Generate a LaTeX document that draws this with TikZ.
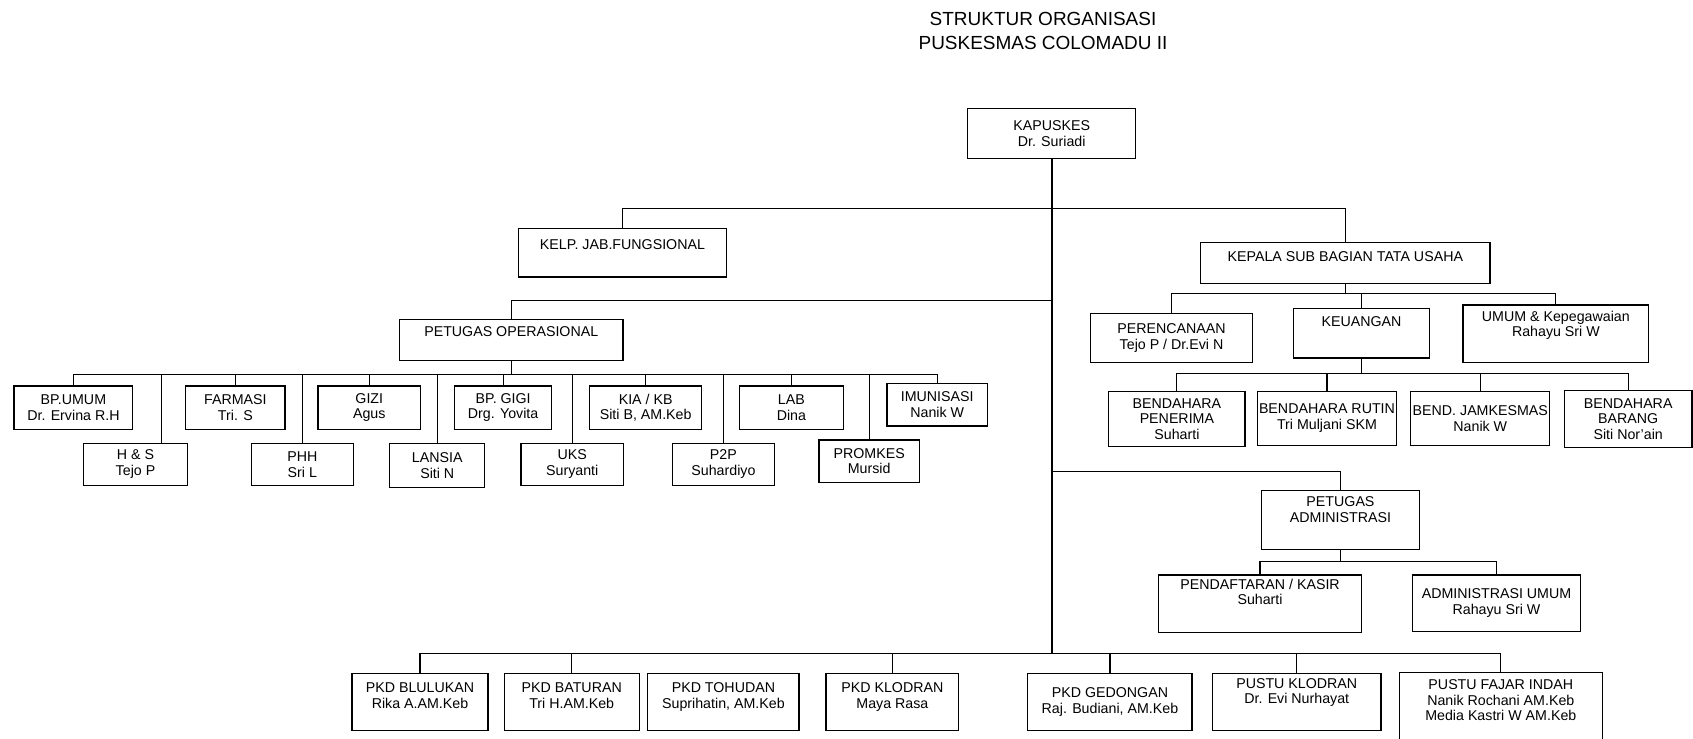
\documentclass[tikz,border=0pt]{standalone}
\usepackage{fontspec}
\setmainfont{Liberation Sans}
\usetikzlibrary{positioning, calc}
\tikzset{
  orgbox/.style={draw, line width=0.6pt, align=center, inner sep=1pt, font=\fontsize{7.5}{8.3}\selectfont},
  boxsize/.style 2 args={minimum width=#1*0.02cm, minimum height=#2*0.02cm},
  link/.style={line width=0.6pt},
  trunk/.style={line width=0.9pt}
}

\begin{document}
\begin{tikzpicture}[x=0.02cm, y=-0.02cm]
  \useasboundingbox (0,0) rectangle (1568,684);
  \node[align=center, font=\fontsize{10}{12.5}\selectfont] (title) at (966,29) {STRUKTUR ORGANISASI\\PUSKESMAS COLOMADU II};

  \node[orgbox, boxsize={156}{46}, anchor=north] (kapuskes) at (974,100) {KAPUSKES\\Dr. Suriadi};
  \node[orgbox, boxsize={193}{45}, anchor=north] (kelp) at (576.5,211) {KELP. JAB.FUNGSIONAL\\[0pt]\mbox{}};
  \node[orgbox, boxsize={268}{38}, anchor=north] (kasubag) at (1246,224) {KEPALA SUB BAGIAN TATA USAHA\\[-1.4pt]\mbox{}};
  \node[orgbox, boxsize={207}{38}, anchor=north] (petop) at (473.5,295) {PETUGAS OPERASIONAL\\[0pt]\mbox{}};

  \foreach \nm/\cx/\y/\w/\h/\t in {
    bpumum/68/357/110/40/{BP.UMUM\\Dr. Ervina R.H},
    farmasi/218/357/92/40/{FARMASI\\Tri. S},
    gizi/342/357/95/40/{GIZI\\Agus},
    bpgigi/466/357/90/40/{BP. GIGI\\Drg. Yovita},
    kia/598/357/104/40/{KIA / KB\\Siti B, AM.Keb},
    lab/733/357/96/40/{LAB\\Dina},
    imunisasi/868/355/93/39/{IMUNISASI\\Nanik W},
    hs/125.5/410/97/39/{H \& S\\Tejo P},
    phh/280/410/94/39/{PHH\\Sri L},
    lansia/405/410/88/41/{LANSIA\\Siti N},
    uks/530/410/95/39/{UKS\\Suryanti},
    ptwop/670/410/94/39/{P2P\\Suhardiyo},
    promkes/805/407/93/39/{PROMKES\\Mursid}}
    \node[orgbox, boxsize={\w}{\h}, anchor=north] (\nm) at (\cx,\y) {\t};

  \node[orgbox, boxsize={150}{45}, anchor=north] (perencanaan) at (1085,290) {PERENCANAAN\\Tejo P / Dr.Evi N};
  \node[orgbox, boxsize={126}{46}, anchor=north] (keuangan) at (1261,285) {KEUANGAN\\[4.4pt]\mbox{}};
  \node[orgbox, boxsize={172}{53}, anchor=north] (umum) at (1441,282) {UMUM \& Kepegawaian\\Rahayu Sri W\\[2pt]\mbox{}};

  \node[orgbox, boxsize={126}{51}, anchor=north] (bpenerima) at (1090,362) {BENDAHARA\\PENERIMA\\Suharti};
  \node[orgbox, boxsize={128}{50}, anchor=north] (brutin) at (1229,362) {BENDAHARA RUTIN\\Tri Muljani SKM};
  \node[orgbox, boxsize={124}{50}, anchor=north] (bjamkes) at (1371,362) {BEND. JAMKESMAS\\Nanik W};
  \node[orgbox, boxsize={118}{53}, anchor=north] (bbarang) at (1508,361) {BENDAHARA\\BARANG\\Siti Nor'ain};

  \node[orgbox, boxsize={147}{54}, anchor=north] (petadmin) at (1241.5,454) {PETUGAS\\ADMINISTRASI\\[2.6pt]\mbox{}};
  \node[orgbox, boxsize={188}{53}, anchor=north] (pendaftaran) at (1167,532) {PENDAFTARAN / KASIR\\Suharti\\[4pt]\mbox{}};
  \node[orgbox, boxsize={156}{52}, anchor=north] (adminumum) at (1386,532) {ADMINISTRASI UMUM\\Rahayu Sri W};

  \foreach \nm/\cx/\w/\t in {
    blulukan/389/126/{PKD BLULUKAN\\Rika A.AM.Keb\\[-2pt]\mbox{}},
    baturan/529.5/125/{PKD BATURAN\\Tri H.AM.Keb\\[-2pt]\mbox{}},
    tohudan/670/140/{PKD TOHUDAN\\Suprihatin, AM.Keb\\[-2pt]\mbox{}},
    pkdklodran/826.5/123/{PKD KLODRAN\\Maya Rasa\\[-2pt]\mbox{}},
    gedongan/1028/152/{PKD GEDONGAN\\Raj. Budiani, AM.Keb},
    pustuklodran/1201/156/{PUSTU KLODRAN\\Dr. Evi Nurhayat\\[3pt]\mbox{}}}
    \node[orgbox, boxsize={\w}{53}, anchor=north] (\nm) at (\cx,623) {\t};
  \node[orgbox, boxsize={188}{70}, anchor=north] (fajar) at (1390,622) {PUSTU FAJAR INDAH\\Nanik Rochani AM.Keb\\Media Kastri W AM.Keb\\[2pt]\mbox{}};

  \coordinate (j1) at (974,193);
  \coordinate (j2) at (974,278);
  \coordinate (j3) at (974,437);
  \coordinate (bbus) at (974,605);
  \coordinate (opbus) at (473.5,347);
  \coordinate (ksbus) at (1246,272);
  \coordinate (kubus) at (1261,346);
  \coordinate (pabus) at (1241.5,520);

  \draw[trunk] (kapuskes.south) -- (bbus);
  \draw[link] (kelp.north) |- (j1) -| (kasubag.north);
  \draw[link] (petop.north) |- (j2);
  \draw[link] (petadmin.north) |- (j3);
  \draw[link] (petop.south) -- (opbus);
  \foreach \nm in {bpumum, farmasi, gizi, bpgigi, kia, lab, imunisasi, phh, lansia, uks, ptwop, promkes}
    \draw[link] (\nm.north) |- (opbus);
  \draw[link] ([xshift=0.48cm]hs.north) |- (opbus);
  \draw[link] (kasubag.south) -- (ksbus);
  \foreach \nm in {perencanaan, keuangan, umum}
    \draw[link] (\nm.north) |- (ksbus);
  \draw[link] (keuangan.south) -- (kubus);
  \foreach \nm in {bpenerima, brutin, bjamkes, bbarang}
    \draw[link] (\nm.north) |- (kubus);
  \draw[link] (petadmin.south) -- (pabus);
  \foreach \nm in {pendaftaran, adminumum}
    \draw[link] (\nm.north) |- (pabus);
  \foreach \nm in {blulukan, baturan, pkdklodran, gedongan, pustuklodran, fajar}
    \draw[link] (\nm.north) |- (bbus);
\end{tikzpicture}
\end{document}
